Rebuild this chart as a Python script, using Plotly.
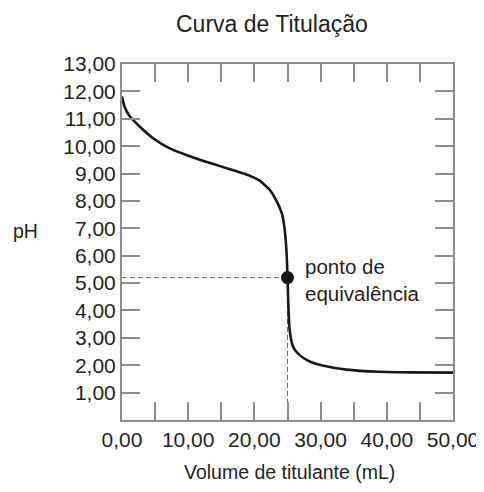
import plotly.graph_objects as go

# Data
volume_ml = [0, 0.38, 1.2, 2.7, 4.7, 7.2, 9.7, 12.2, 14.7, 17.2, 18.5, 19.7, 20.8, 21.7, 22.4,
             23.0, 23.5, 23.9, 24.2, 24.5, 24.75, 24.9, 25.0, 25.1, 25.2, 25.3, 25.5, 25.8,
             26.3, 27.3, 28.5, 30.3, 33.9, 38.9, 44.0, 50.0]
ph_values = [11.81, 11.44, 11.08, 10.71, 10.29, 9.92, 9.68, 9.47, 9.28, 9.09, 8.99, 8.88, 8.74,
             8.55, 8.38, 8.15, 7.92, 7.7, 7.5, 7.1, 6.5, 5.9, 5.2, 4.4, 3.75, 3.35, 3.0, 2.7,
             2.5, 2.28, 2.12, 1.99, 1.84, 1.76, 1.74, 1.73]

eq_volume = 25.0
eq_ph = 5.2

x_tick_vals = [0, 5, 10, 15, 20, 25, 30, 35, 40, 45, 50]
x_tick_labels = ["0,00", "", "10,00", "", "20,00", "", "30,00", "", "40,00", "", "50,00"]
y_tick_vals = [1, 2, 3, 4, 5, 6, 7, 8, 9, 10, 11, 12, 13]
y_tick_labels = ["1,00", "2,00", "3,00", "4,00", "5,00", "6,00", "7,00", "8,00", "9,00",
                 "10,00", "11,00", "12,00", "13,00"]

title_text = "Curva de Titulação"
x_title = "Volume de titulante (mL)"
y_title = "pH"
eq_label = "ponto de<br>equivalência"

FONT = "Liberation Sans, Arial, sans-serif"
AXIS_GREY = "#8c8c8c"
TEXT = "#231f20"

fig = go.Figure()

# dashed guide lines to equivalence point
fig.add_trace(go.Scatter(x=[0, eq_volume], y=[eq_ph, eq_ph], mode="lines",
                         line=dict(color="#666666", width=1, dash="5px,3px"),
                         hoverinfo="skip", showlegend=False))
fig.add_trace(go.Scatter(x=[eq_volume, eq_volume], y=[0, eq_ph], mode="lines",
                         line=dict(color="#666666", width=1, dash="5px,3px"),
                         hoverinfo="skip", showlegend=False))

fig.add_trace(go.Scatter(x=volume_ml, y=ph_values, mode="lines",
                         line=dict(color="#1a1616", width=2.6, shape="spline", smoothing=0.5),
                         showlegend=False))

fig.add_trace(go.Scatter(x=[eq_volume], y=[eq_ph], mode="markers",
                         marker=dict(color="#1a1616", size=13),
                         showlegend=False))

fig.add_annotation(x=eq_volume + 2.4, y=eq_ph - 0.1, xref="x", yref="y",
                   text=eq_label, showarrow=False, xanchor="left", yanchor="middle",
                   align="left", font=dict(family=FONT, size=20.5, color=TEXT))

fig.add_annotation(x=0.453, y=1.112, xref="paper", yref="paper", text=title_text,
                   showarrow=False, xanchor="center", yanchor="middle",
                   font=dict(family=FONT, size=23, color=TEXT))
fig.add_annotation(x=0.505, y=-0.146, xref="paper", yref="paper", text=x_title,
                   showarrow=False, xanchor="center", yanchor="middle",
                   font=dict(family=FONT, size=19.5, color=TEXT))
fig.add_annotation(x=-0.293, y=0.531, xref="paper", yref="paper", text=y_title,
                   showarrow=False, xanchor="center", yanchor="middle",
                   font=dict(family=FONT, size=19.5, color=TEXT))

axis_common = dict(showline=True, mirror="ticks", linecolor=AXIS_GREY, linewidth=2,
                   ticks="inside", ticklen=18, tickwidth=1.6, tickcolor=AXIS_GREY,
                   showgrid=False, zeroline=False, automargin=False,
                   tickfont=dict(family=FONT, size=21, color=TEXT))

fig.update_xaxes(range=[0, 50], tickmode="array", tickvals=x_tick_vals,
                 ticktext=x_tick_labels, **axis_common)
fig.update_yaxes(range=[0, 13], tickmode="array", tickvals=y_tick_vals,
                 ticktext=y_tick_labels, **axis_common)

# page body has an 8px default margin, so the figure is sized to fit the window
fig.update_layout(width=476, height=484, margin=dict(l=114, r=31, t=56, b=72),
                  plot_bgcolor="white", paper_bgcolor="white",
                  font=dict(family=FONT, color=TEXT))

fig.write_html("out.html")
